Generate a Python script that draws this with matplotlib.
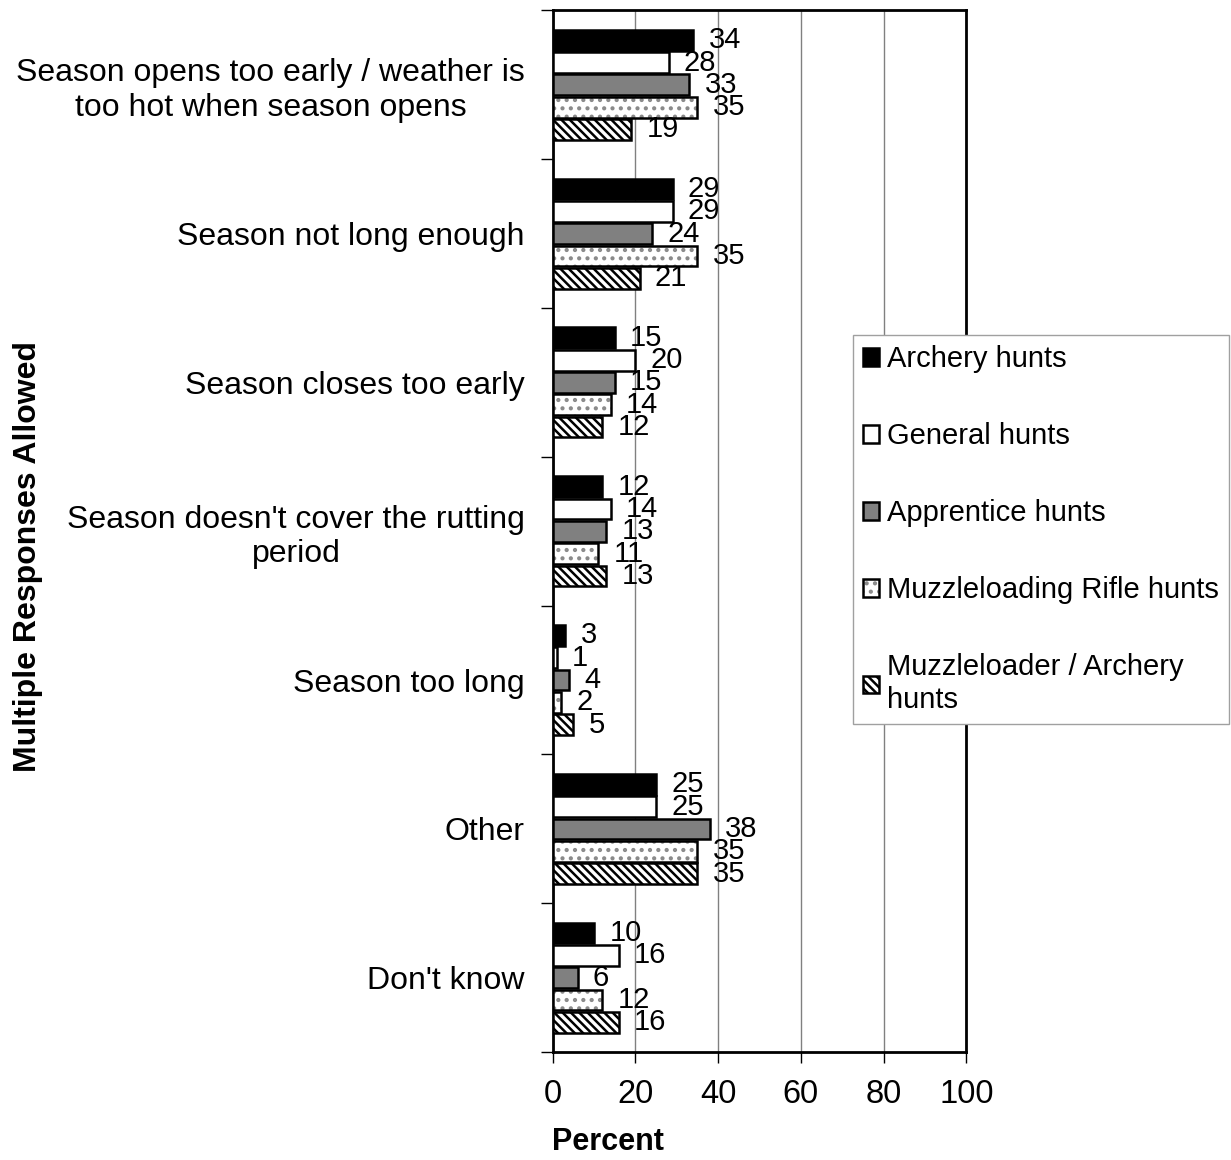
import matplotlib
matplotlib.use("Agg")
import matplotlib.pyplot as plt
import numpy as np

plt.rcParams['font.family'] = ['Liberation Sans', 'DejaVu Sans']
plt.rcParams['hatch.linewidth'] = 1.8

categories = [
    "Season opens too early / weather is\ntoo hot when season opens",
    "Season not long enough",
    "Season closes too early",
    "Season doesn't cover the rutting\nperiod",
    "Season too long",
    "Other",
    "Don't know",
]
series_names = [
    "Archery hunts",
    "General hunts",
    "Apprentice hunts",
    "Muzzleloading Rifle hunts",
    "Muzzleloader / Archery\nhunts",
]
archery = [34, 29, 15, 12, 3, 25, 10]
general = [28, 29, 20, 14, 1, 25, 16]
apprentice = [33, 24, 15, 13, 4, 38, 6]
muzzle_rifle = [35, 35, 14, 11, 2, 35, 12]
muzzle_archery = [19, 21, 12, 13, 5, 35, 16]
x_ticks = [0, 20, 40, 60, 80, 100]

series = [archery, general, apprentice, muzzle_rifle, muzzle_archery]
styles = [
    dict(facecolor='black', hatch=None, hcol='black'),
    dict(facecolor='white', hatch=None, hcol='black'),
    dict(facecolor='#808080', hatch=None, hcol='black'),
    dict(facecolor='white', hatch='..', hcol='#8a8a8a'),
    dict(facecolor='white', hatch='\\\\\\\\', hcol='black'),
]

fig = plt.figure(figsize=(12.31, 11.6), dpi=100)
ax = fig.add_axes([0.449, 0.093, 0.336, 0.898])

n = len(categories)
y = np.arange(n)
h = 0.15
handles = []
for j, (vals, st) in enumerate(zip(series, styles)):
    pos = y - 2 * h + j * h
    fillbars = ax.barh(pos, vals, height=h * 0.93, color=st['facecolor'],
                       edgecolor=st['hcol'], linewidth=0, hatch=st['hatch'],
                       zorder=3)
    outline = ax.barh(pos, vals, height=h * 0.93, fill=False,
                      edgecolor='black', linewidth=1.8, zorder=3.5)
    handles.append((fillbars, outline))
    for p, v in zip(pos, vals):
        ax.annotate(str(v), xy=(v, p), xytext=(11, 0), textcoords='offset points',
                    ha='left', va='center', fontsize=21, zorder=4)

ax.set_xlim(0, 100)
ax.set_ylim(n - 0.5, -0.5)
ax.set_xticks(x_ticks)
ax.set_xticklabels([str(t) for t in x_ticks], fontsize=23.5)
ax.set_yticks(y)
ax.set_yticklabels(categories, fontsize=23, multialignment='center')
ax.tick_params(axis='y', which='major', length=0, pad=20)
ax.set_yticks(np.arange(n + 1) - 0.5, minor=True)
ax.tick_params(axis='y', which='minor', length=9, width=1, direction='out')
ax.tick_params(axis='x', which='major', length=8, width=1, direction='out', pad=11)
ax.grid(axis='x', color='#808080', linewidth=1.0, zorder=0)
ax.set_axisbelow(True)
for s in ax.spines.values():
    s.set_linewidth(2)
    s.set_color('black')

fig.text(0.494, 0.0155, 'Percent', fontsize=22, fontweight='bold',
         ha='center', va='center')
fig.text(0.023, 0.52, 'Multiple Responses Allowed', rotation=90, fontsize=23,
         fontweight='bold', ha='center', va='center')

leg = fig.legend(handles=handles, labels=series_names, loc='upper left',
                 bbox_to_anchor=(0.693, 0.711), fontsize=21, frameon=True,
                 fancybox=False, edgecolor='#a0a0a0', framealpha=1,
                 handlelength=0.55, handleheight=0.55, handletextpad=0.25,
                 labelspacing=1.68, borderpad=0.35, borderaxespad=0)
leg.get_frame().set_linewidth(1)

fig.savefig('out.png', dpi=100)
